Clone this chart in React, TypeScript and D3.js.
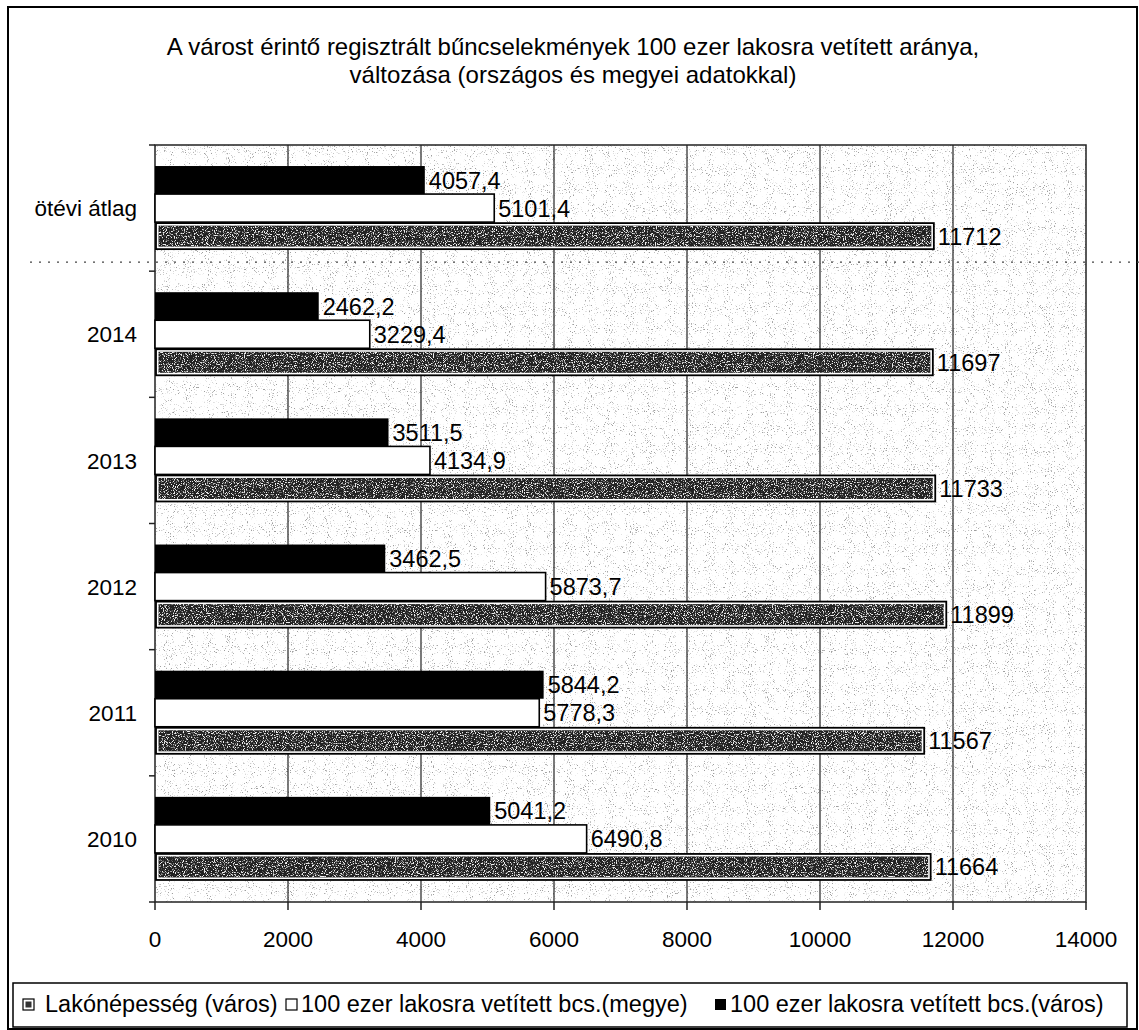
import React from 'react';
import * as d3 from 'd3';

const categories = ['ötévi átlag', '2014', '2013', '2012', '2011', '2010'];
// 100 ezer lakosra vetített bcs. (város)
const varosBcs = [4057.4, 2462.2, 3511.5, 3462.5, 5844.2, 5041.2];
// 100 ezer lakosra vetített bcs. (megye)
const megyeBcs = [5101.4, 3229.4, 4134.9, 5873.7, 5778.3, 6490.8];
// Lakónépesség (város)
const lakonepesseg = [11712, 11697, 11733, 11899, 11567, 11664];
const xTicks = [0, 2000, 4000, 6000, 8000, 10000, 12000, 14000];
const titleLines = [
  'A várost érintő regisztrált bűncselekmények 100 ezer lakosra vetített aránya,',
  'változása (országos és megyei adatokkal)',
];
const legendLabels = [
  'Lakónépesség (város)',
  '100 ezer lakosra vetített bcs.(megye)',
  '100 ezer lakosra vetített bcs.(város)',
];

const W = 1139;
const H = 1030;
const font = "'Liberation Sans', Arial, sans-serif";
const margin = { top: 145, right: 53, bottom: 128, left: 155 };

const huLocale = d3.formatLocale({ decimal: ',', thousands: '', grouping: [3], currency: ['', ' Ft'] });
const fmt1 = huLocale.format('.1f');
const fmtVal = (v: number) => (Number.isInteger(v) ? String(v) : fmt1(v));

type Key = 'varos' | 'megye' | 'lako';
const keys: Key[] = ['varos', 'megye', 'lako'];

const App: React.FC = () => {
  const x = d3.scaleLinear().domain([0, 14000]).range([margin.left, W - margin.right]);
  const y0 = d3
    .scaleBand()
    .domain(categories)
    .range([margin.top, H - margin.bottom])
    .paddingInner(0)
    .paddingOuter(0);
  const y1 = d3.scaleBand<Key>().domain(keys).range([0, y0.bandwidth()]).paddingInner(0).paddingOuter(0.75);

  const rows = categories.map((c, i) => ({
    cat: c,
    varos: varosBcs[i],
    megye: megyeBcs[i],
    lako: lakonepesseg[i],
  }));

  const plotTop = margin.top;
  const plotBottom = H - margin.bottom;
  const plotLeft = margin.left;
  const plotRight = W - margin.right;
  const boundaries = categories.map((c) => y0(c) as number).concat([plotBottom]);
  const bh = y1.bandwidth();

  return (
    <svg width={W} height={H} style={{ position: 'absolute', left: 0, top: 0, background: '#fff' }} fontFamily={font}>
      <defs>
        <filter id="bgNoise" x="0" y="0" width="100%" height="100%">
          <feTurbulence type="fractalNoise" baseFrequency="0.95" numOctaves="2" seed="4" result="n" />
          <feColorMatrix
            in="n"
            type="matrix"
            values="0 0 0 0 0.35  0 0 0 0 0.35  0 0 0 0 0.35  7 0 0 0 -4.4"
            result="d"
          />
          <feComposite in="d" in2="SourceGraphic" operator="in" />
        </filter>
        <filter id="barNoise" x="0" y="0" width="100%" height="100%">
          <feTurbulence type="fractalNoise" baseFrequency="0.9" numOctaves="2" seed="9" result="n" />
          <feColorMatrix
            in="n"
            type="matrix"
            values="0 0 0 0 0.85  0 0 0 0 0.85  0 0 0 0 0.85  7 0 0 0 -3.7"
            result="d"
          />
          <feComposite in="d" in2="SourceGraphic" operator="in" />
        </filter>
      </defs>

      {/* outer frame */}
      <rect x={8} y={7} width={1129} height={1022} fill="#fff" stroke="#000" strokeWidth={2} />

      {/* title */}
      {titleLines.map((t, i) => (
        <text key={i} x={573} y={55 + i * 28} textAnchor="middle" fontSize={24} fill="#000">
          {t}
        </text>
      ))}

      {/* plot background */}
      <rect x={plotLeft} y={plotTop} width={plotRight - plotLeft} height={plotBottom - plotTop} fill="#fff" />
      <rect
        x={plotLeft}
        y={plotTop}
        width={plotRight - plotLeft}
        height={plotBottom - plotTop}
        fill="#000"
        filter="url(#bgNoise)"
      />

      {/* vertical gridlines */}
      {xTicks.slice(1, -1).map((t) => (
        <line key={t} x1={x(t)} x2={x(t)} y1={plotTop} y2={plotBottom} stroke="#222" strokeWidth={1.2} />
      ))}

      {/* plot border */}
      <rect
        x={plotLeft}
        y={plotTop}
        width={plotRight - plotLeft}
        height={plotBottom - plotTop}
        fill="none"
        stroke="#222"
        strokeWidth={1.5}
      />

      {/* separator dotted line */}
      <line
        x1={30}
        x2={W}
        y1={boundaries[1] - 9}
        y2={boundaries[1] - 9}
        stroke="#444"
        strokeWidth={1.2}
        strokeDasharray="2 7"
      />

      {/* bars */}
      {rows.map((r) => {
        const by = y0(r.cat) as number;
        const yv = by + (y1('varos') as number);
        const ym = by + (y1('megye') as number);
        const yl = by + (y1('lako') as number);
        const x0 = x(0);
        return (
          <g key={r.cat}>
            <rect x={x0} y={yv} width={x(r.varos) - x0} height={bh} fill="#000" />
            <rect x={x0} y={ym} width={x(r.megye) - x0} height={bh} fill="#fff" stroke="#000" strokeWidth={1.6} />
            <rect
              x={x0 + 1}
              y={yl + 1}
              width={x(r.lako) - x0 - 1}
              height={bh - 2}
              fill="#fff"
              stroke="#000"
              strokeWidth={1.8}
            />
            <rect x={x0 + 3.5} y={yl + 3.5} width={x(r.lako) - x0 - 6} height={bh - 7} fill="#222" />
            <rect
              x={x0 + 3.5}
              y={yl + 3.5}
              width={x(r.lako) - x0 - 6}
              height={bh - 7}
              fill="#000"
              filter="url(#barNoise)"
            />
            {([
              ['varos', r.varos, yv],
              ['megye', r.megye, ym],
              ['lako', r.lako, yl],
            ] as [Key, number, number][]).map(([k, v, yy]) => (
              <text key={k} x={x(v) + 4} y={yy + bh / 2} dy="0.36em" fontSize={23.5} fill="#000">
                {fmtVal(v)}
              </text>
            ))}
          </g>
        );
      })}

      {/* y axis ticks */}
      {boundaries.map((b, i) => (
        <line key={i} x1={plotLeft - 6} x2={plotLeft} y1={b} y2={b} stroke="#222" strokeWidth={1.5} />
      ))}
      {categories.map((c) => (
        <text
          key={c}
          x={plotLeft - 18}
          y={(y0(c) as number) + y0.bandwidth() / 2}
          dy="0.36em"
          textAnchor="end"
          fontSize={22.5}
          fill="#000"
        >
          {c}
        </text>
      ))}

      {/* x axis ticks */}
      {xTicks.map((t) => (
        <g key={t}>
          <line x1={x(t)} x2={x(t)} y1={plotBottom} y2={plotBottom + 8} stroke="#222" strokeWidth={1.5} />
          <text x={x(t)} y={plotBottom + 45} textAnchor="middle" fontSize={22.5} fill="#000">
            {t}
          </text>
        </g>
      ))}

      {/* legend */}
      <rect x={13} y={983} width={1114} height={44} fill="#fff" stroke="#000" strokeWidth={1.5} />
      <g>
        <rect x={23} y={999} width={11} height={11} fill="#fff" stroke="#000" strokeWidth={1.2} />
        <rect x={25.5} y={1001.5} width={6} height={6} fill="#333" />
        <text x={45} y={1012} fontSize={23.5}>
          {legendLabels[0]}
        </text>
        <rect x={286} y={999} width={11} height={11} fill="#fff" stroke="#000" strokeWidth={1.2} />
        <text x={301} y={1012} fontSize={23.5}>
          {legendLabels[1]}
        </text>
        <rect x={715} y={999} width={11} height={11} fill="#000" />
        <text x={730} y={1012} fontSize={23.5}>
          {legendLabels[2]}
        </text>
      </g>
    </svg>
  );
};

export default App;
